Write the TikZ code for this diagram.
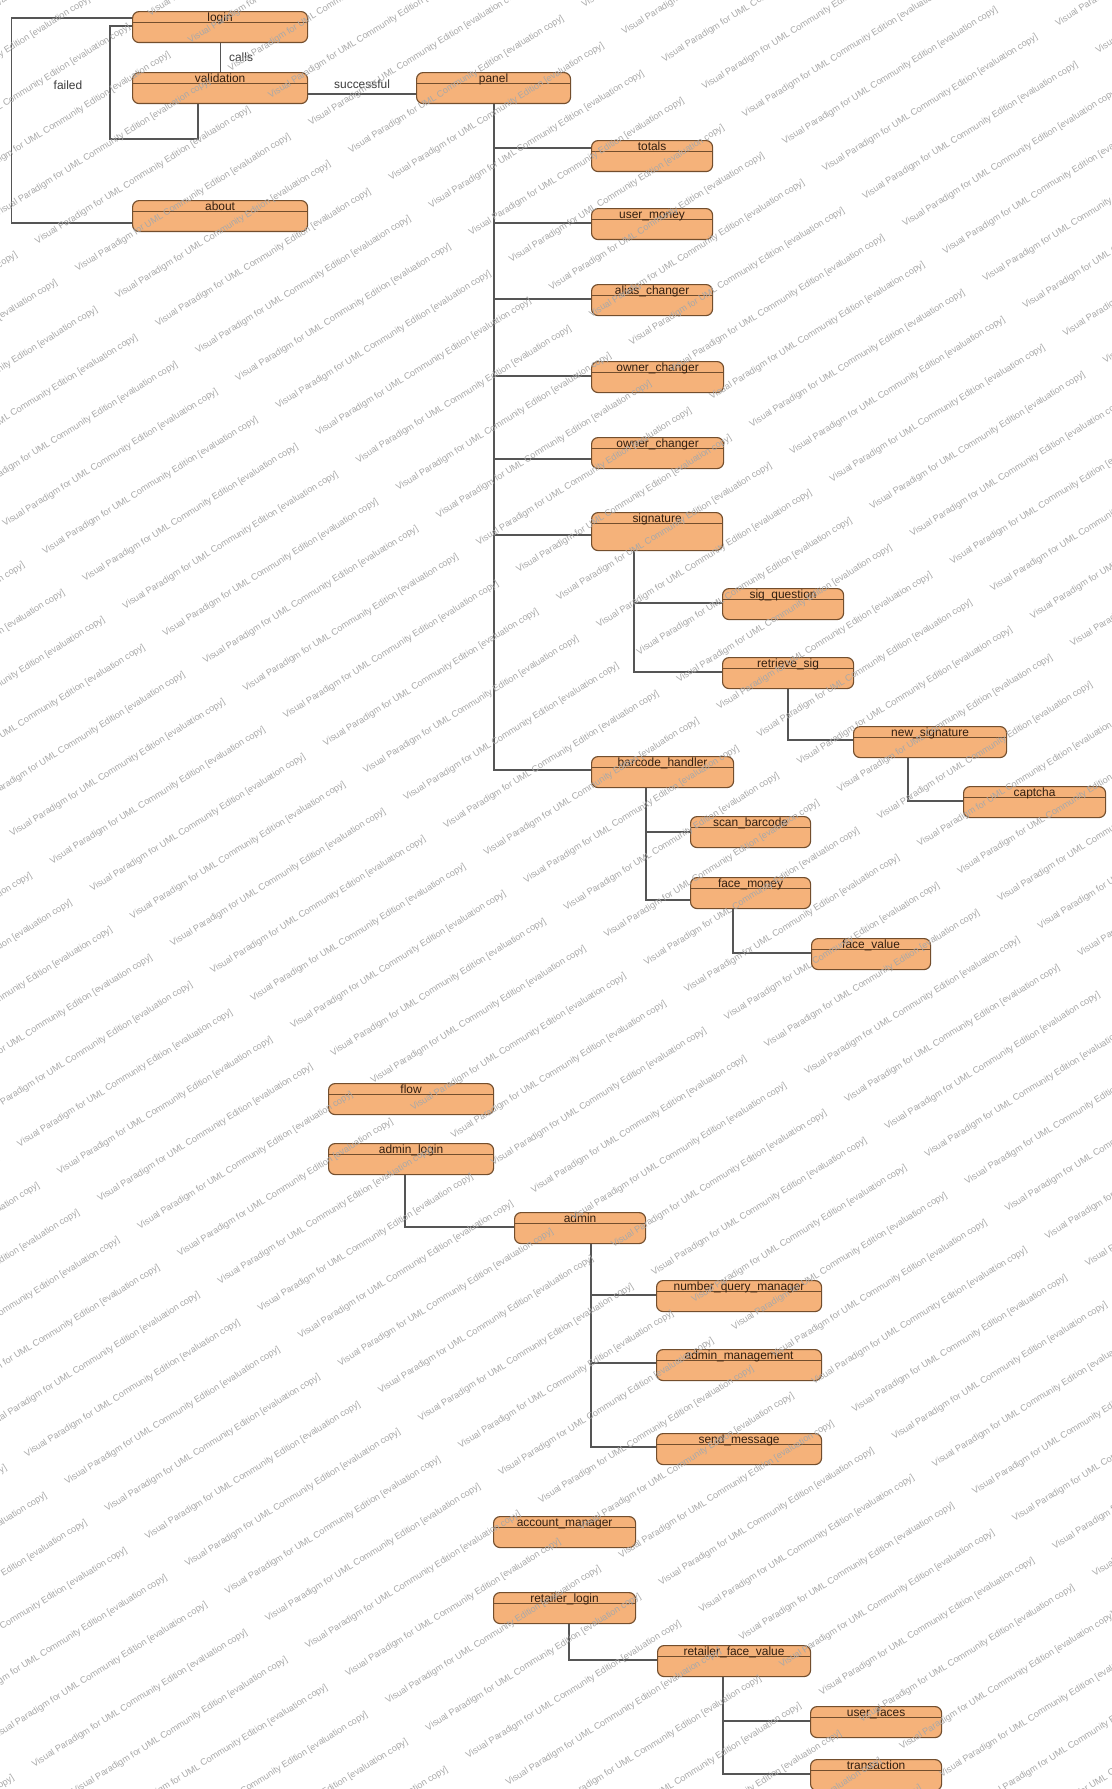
\documentclass[tikz,border=0pt]{standalone}
\usepackage{fontspec}
\setmainfont{Liberation Sans}
\usetikzlibrary{calc}
\definecolor{boxfill}{RGB}{245,178,122}
\definecolor{boxline}{RGB}{115,78,45}
\definecolor{boxtext}{RGB}{50,30,15}
\definecolor{connc}{RGB}{85,85,85}
\definecolor{wmark}{RGB}{168,168,168}
\begin{document}
\begin{tikzpicture}[x=0.02cm, y=-0.02cm,
  sbox/.style={draw=boxline, fill=boxfill, line width=0.65pt, rounded corners=0.13cm,
    inner sep=0pt, anchor=north west, text height=0.2cm, text depth=0.42cm,
    font=\fontsize{6.8}{8}\selectfont, text=boxtext,
    path picture={\draw[boxline, line width=0.6pt]
      ([yshift=-0.225cm]path picture bounding box.north west) --
      ([yshift=-0.225cm]path picture bounding box.north east);}},
  bw/.style={minimum width=#1*0.02cm},
  tallbox/.style={text depth=0.56cm},
  wire/.style={draw=connc, line width=0.6pt},
  clabel/.style={font=\fontsize{6.8}{8}\selectfont, text=connc!70!black, inner sep=0pt},
  wm/.style={font=\fontsize{5.2}{6}\selectfont, text=wmark, rotate=32, anchor=base west, inner sep=0pt}
]
\useasboundingbox (0,0) rectangle (1112,1789);
\fill[white] (0,0) rectangle (1112,1789);

% ---- boxes ----
\node[sbox, bw=175] (login) at (132,11) {login};
\node[sbox, bw=175] (validation) at (132,72) {validation};
\node[sbox, bw=175] (about) at (132,200) {about};
\node[sbox, bw=154] (panel) at (416,72) {panel};
\node[sbox, bw=121] (totals) at (591,140) {totals};
\node[sbox, bw=121] (usermoney) at (591,208) {user\_money};
\node[sbox, bw=121] (alias) at (591,284) {alias\_changer};
\node[sbox, bw=132] (ownerA) at (591,361) {owner\_changer};
\node[sbox, bw=132] (ownerB) at (591,437) {owner\_changer};
\node[sbox, bw=131, tallbox] (signature) at (591,512) {signature};
\node[sbox, bw=121] (sigq) at (722,588) {sig\_question};
\node[sbox, bw=131] (retr) at (722,657) {retrieve\_sig};
\node[sbox, bw=153] (newsig) at (853,726) {new\_signature};
\node[sbox, bw=142] (captcha) at (963,786) {captcha};
\node[sbox, bw=142] (barcode) at (591,756) {barcode\_handler};
\node[sbox, bw=120] (scan) at (690,816) {scan\_barcode};
\node[sbox, bw=120] (facemoney) at (690,877) {face\_money};
\node[sbox, bw=119] (facevalue) at (811,938) {face\_value};
\node[sbox, bw=165] (flow) at (328,1083) {flow};
\node[sbox, bw=165] (adminlogin) at (328,1143) {admin\_login};
\node[sbox, bw=131] (admin) at (514,1212) {admin};
\node[sbox, bw=165] (nqm) at (656,1280) {number\_query\_manager};
\node[sbox, bw=165] (amgmt) at (656,1349) {admin\_management};
\node[sbox, bw=165] (sendmsg) at (656,1433) {send\_message};
\node[sbox, bw=142] (accmgr) at (493,1516) {account\_manager};
\node[sbox, bw=142] (retlogin) at (493,1592) {retailer\_login};
\node[sbox, bw=153] (rfv) at (657,1645) {retailer\_face\_value};
\node[sbox, bw=131] (userfaces) at (810,1706) {user\_faces};
\node[sbox, bw=131] (transaction) at (810,1759) {transaction};

% ---- connectors: login / validation / about ----
\draw[wire] ($(login.north west)+(0,7)$) -- ++(-120.5,0) |- ($(about.north west)+(0,23)$);
\draw[wire] ($(login.north west)+(0,15)$) -- ++(-22,0) -- ++(0,113) -| ($(validation.south west)+(66,0)$);
\draw[wire] (login.south) -- (validation.north)
  node[clabel, midway, anchor=west, xshift=0.17cm] (lcalls) {calls};
\node[clabel] (lfailed) at (68,85) {failed};
\draw[wire] ($(validation.north east)+(0,22)$) -- ($(panel.north west)+(0,22)$)
  node[clabel, midway, anchor=south, yshift=0.1cm] (lsucc) {successful};

% ---- panel trunk ----
\coordinate (pt) at ($(panel.south west)+(78,0)$);
\draw[wire] (pt) |- ($(totals.north west)+(0,8)$);
\draw[wire] (pt) |- ($(usermoney.north west)+(0,15)$);
\draw[wire] (pt) |- ($(alias.north west)+(0,15)$);
\draw[wire] (pt) |- ($(ownerA.north west)+(0,15)$);
\draw[wire] (pt) |- ($(ownerB.north west)+(0,22)$);
\draw[wire] (pt) |- ($(signature.north west)+(0,23)$);
\draw[wire] (pt) |- ($(barcode.north west)+(0,14)$);

% ---- signature subtree ----
\coordinate (st) at ($(signature.south west)+(43,0)$);
\draw[wire] (st) |- ($(sigq.north west)+(0,15)$);
\draw[wire] (st) |- ($(retr.north west)+(0,15)$);
\draw[wire] ($(retr.south west)+(66,0)$) |- ($(newsig.north west)+(0,14)$);
\draw[wire] ($(newsig.south west)+(55,0)$) |- ($(captcha.north west)+(0,15)$);

% ---- barcode subtree ----
\coordinate (bt) at ($(barcode.south west)+(55,0)$);
\draw[wire] (bt) |- ($(scan.north west)+(0,16)$);
\draw[wire] (bt) |- ($(facemoney.north west)+(0,23)$);
\draw[wire] ($(facemoney.south west)+(43,0)$) |- ($(facevalue.north west)+(0,15)$);

% ---- admin ----
\draw[wire] ($(adminlogin.south west)+(77,0)$) |- ($(admin.north west)+(0,15)$);
\coordinate (at) at ($(admin.south west)+(77,0)$);
\draw[wire] (at) |- ($(nqm.north west)+(0,15)$);
\draw[wire] (at) |- ($(amgmt.north west)+(0,14)$);
\draw[wire] (at) |- ($(sendmsg.north west)+(0,14)$);

% ---- retailer ----
\draw[wire] ($(retlogin.south west)+(76,0)$) |- ($(rfv.north west)+(0,15)$);
\coordinate (rt) at ($(rfv.south west)+(66,0)$);
\draw[wire] (rt) |- ($(userfaces.north west)+(0,15)$);
\draw[wire] (rt) |- ($(transaction.north west)+(0,15)$);

% ---- watermark ----
\begin{scope}
\clip (0,0) rectangle (1112,1789);
\foreach \j in {-37,...,16}{
  \foreach \i in {-9,...,8}{
    \pgfmathsetmacro\wx{1007+233.2*\i+40.1*\j}
    \pgfmathsetmacro\wy{1212-145.7*\i+27.4*\j}
    \ifdim \wx pt > -240pt \ifdim \wx pt < 1112pt
    \ifdim \wy pt > -10pt \ifdim \wy pt < 1930pt
      \node[wm] (wm-\i-\j) at (\wx,\wy)
        {Visual Paradigm for UML Community Edition [evaluation copy]};
    \fi\fi\fi\fi
  }
}
\end{scope}
\end{tikzpicture}
\end{document}
